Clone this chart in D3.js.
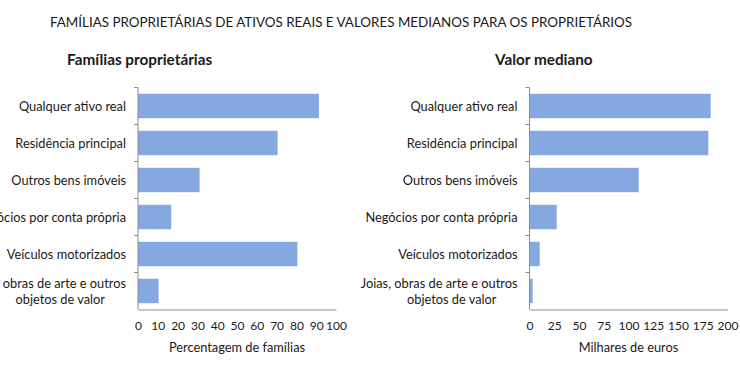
<!DOCTYPE html>
<html>
<head>
<meta charset="utf-8">
<script src="https://cdn.jsdelivr.net/npm/d3@7"></script>
<style>
  body { margin: 0; background: #fff; }
  text { font-family: Lato, 'Open Sans', sans-serif; fill: #1a1a1a; }
</style>
</head>
<body>
<div id="chart"></div>
<script>
// data
var categories = [
  'Qualquer ativo real',
  'Residência principal',
  'Outros bens imóveis',
  'Negócios por conta própria',
  'Veículos motorizados',
  'Joias, obras de arte e outros|objetos de valor'
]
var ownersPct = [91.4, 70.5, 31.1, 16.8, 80.5, 10.4]
var medianValue = [183, 180.6, 110.3, 27.5, 10.3, 3.2]
var pctTicks = [0, 10, 20, 30, 40, 50, 60, 70, 80, 90, 100]
var valueTicks = [0, 25, 50, 75, 100, 125, 150, 175, 200]

var width = 740
var height = 389
var BAR = '#86a8e1'
var AXIS = '#8c8c8c'

var svg = d3
  .select('#chart')
  .append('svg')
  .attr('width', width)
  .attr('height', height)

svg
  .append('text')
  .attr('x', 50)
  .attr('y', 27)
  .attr('font-size', '13.4px')
  .text('FAMÍLIAS PROPRIETÁRIAS DE ATIVOS REAIS E VALORES MEDIANOS PARA OS PROPRIETÁRIOS')

function panel (opts) {
  var x = d3.scaleLinear().domain([0, opts.max]).range([opts.left, opts.left + 198])
  var y = d3
    .scaleBand()
    .domain(categories)
    .range([87.5, 309.5])
    .paddingInner(0.34)
    .paddingOuter(0.17)

  svg
    .append('text')
    .attr('x', opts.titleX)
    .attr('y', 65)
    .attr('font-size', '15.3px')
    .attr('font-weight', 'bold')
    .text(opts.title)

  svg
    .selectAll(null)
    .data(categories)
    .enter()
    .append('rect')
    .attr('x', x(0))
    .attr('y', d => y(d))
    .attr('height', y.bandwidth())
    .attr('width', (d, i) => x(opts.values[i]) - x(0))
    .attr('fill', BAR)

  // y axis with ticks on band boundaries
  var step = y.step()
  var g = svg.append('g')
  g.append('line')
    .attr('x1', x(0)).attr('x2', x(0))
    .attr('y1', 87.5).attr('y2', 309.5)
    .attr('stroke', AXIS)
  g.selectAll(null)
    .data(d3.range(categories.length))
    .enter()
    .append('line')
    .attr('x1', x(0) - 4).attr('x2', x(0))
    .attr('y1', i => 87.5 + i * step).attr('y2', i => 87.5 + i * step)
    .attr('stroke', AXIS)

  // x axis
  svg
    .append('g')
    .attr('transform', 'translate(0,309.5)')
    .call(d3.axisBottom(x).tickValues(opts.ticks).tickSize(0).tickPadding(12))
    .call(a => a.select('.domain').attr('stroke', AXIS))
    .call(a => a.selectAll('text').attr('font-size', '12px').attr('font-family', 'Lato, sans-serif').attr('fill', '#1a1a1a'))

  svg
    .append('text')
    .attr('x', opts.left + 99)
    .attr('y', 352)
    .attr('text-anchor', 'middle')
    .attr('font-size', '12.8px')
    .text(opts.axisTitle)

  // category labels
  var labels = svg
    .selectAll(null)
    .data(categories)
    .enter()
    .append('text')
    .attr('font-size', '12.8px')
    .attr('text-anchor', 'end')
  labels.each(function (d) {
    var parts = d.split('|')
    var cy = y(d) + y.bandwidth() / 2
    var t = d3.select(this)
    if (parts.length === 1) {
      t.attr('x', x(0) - 12).attr('y', cy + 4.5).text(d)
    } else {
      t.append('tspan').attr('x', x(0) - 12).attr('y', cy - 3.5).text(parts[0])
      t.append('tspan').attr('x', x(0) - 12 - 21).attr('y', cy + 12.5).text(parts[1])
    }
  })
}

panel({
  left: 138,
  max: 100,
  values: ownersPct,
  ticks: pctTicks,
  title: 'Famílias proprietárias',
  titleX: 67,
  axisTitle: 'Percentagem de famílias'
})

panel({
  left: 529.5,
  max: 200,
  values: medianValue,
  ticks: valueTicks,
  title: 'Valor mediano',
  titleX: 495,
  axisTitle: 'Milhares de euros'
})
</script>
</body>
</html>
